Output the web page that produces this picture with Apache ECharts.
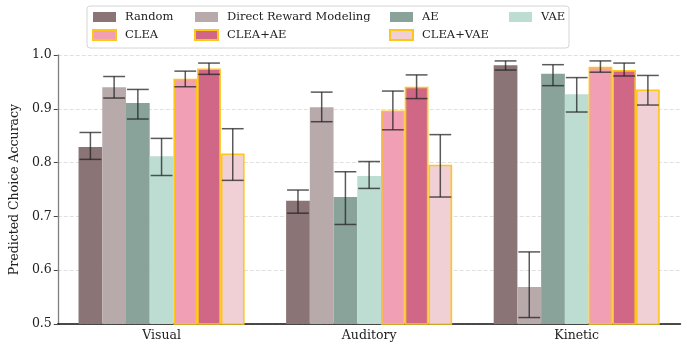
<!DOCTYPE html>
<html>
<head>
<meta charset="utf-8">
<script src="https://cdn.jsdelivr.net/npm/echarts@6/dist/echarts.min.js"></script>
<style>
  html, body { margin: 0; padding: 0; background: #fff; }
  #chart { width: 690px; height: 343px; }
</style>
</head>
<body>
<div id="chart"></div>
<script>
// Predicted choice accuracy per modality, mean with lower/upper error bounds
const categories = ['Visual', 'Auditory', 'Kinetic'];
const yTicks = [0.5, 0.6, 0.7, 0.8, 0.9, 1.0];

const methodNames = ['Random', 'Direct Reward Modeling', 'AE', 'VAE', 'CLEA', 'CLEA+AE', 'CLEA+VAE'];

const randomMean = [0.829, 0.729, 0.981];
const randomLow  = [0.806, 0.706, 0.972];
const randomHigh = [0.856, 0.749, 0.989];

const drmMean = [0.940, 0.903, 0.569];
const drmLow  = [0.920, 0.876, 0.512];
const drmHigh = [0.960, 0.931, 0.634];

const aeMean = [0.911, 0.736, 0.965];
const aeLow  = [0.881, 0.685, 0.943];
const aeHigh = [0.936, 0.783, 0.982];

const vaeMean = [0.812, 0.775, 0.927];
const vaeLow  = [0.776, 0.752, 0.894];
const vaeHigh = [0.845, 0.802, 0.958];

const cleaMean = [0.956, 0.897, 0.978];
const cleaLow  = [0.941, 0.861, 0.968];
const cleaHigh = [0.970, 0.933, 0.989];

const cleaAeMean = [0.975, 0.941, 0.972];
const cleaAeLow  = [0.964, 0.919, 0.961];
const cleaAeHigh = [0.985, 0.963, 0.985];

const cleaVaeMean = [0.817, 0.796, 0.936];
const cleaVaeLow  = [0.767, 0.736, 0.907];
const cleaVaeHigh = [0.863, 0.852, 0.962];

const means = [randomMean, drmMean, aeMean, vaeMean, cleaMean, cleaAeMean, cleaVaeMean];
const lows  = [randomLow, drmLow, aeLow, vaeLow, cleaLow, cleaAeLow, cleaVaeLow];
const highs = [randomHigh, drmHigh, aeHigh, vaeHigh, cleaHigh, cleaAeHigh, cleaVaeHigh];

const fills = ['#8b7475', '#b8a9ab', '#8aa39a', '#bddcd2', '#f09fb5', '#d06787', '#f1d0d5'];
const outlined = [false, false, false, false, true, true, true];

const FONT = 'DejaVu Serif';
const nGroup = methodNames.length;
const groupFrac = 0.8;

const barSeries = methodNames.map((name, k) => ({
  name: name,
  type: 'bar',
  data: means[k],
  barWidth: (groupFrac * 100 / nGroup) + '%',
  barGap: '0%',
  z: 2,
  itemStyle: {
    color: fills[k],
    borderColor: outlined[k] ? '#ffc61a' : fills[k],
    borderWidth: outlined[k] ? 1.6 : 0
  }
}));

// Error bars: vertical whisker with caps, offset to sit on each bar
const errSeries = methodNames.map((name, k) => ({
  type: 'custom',
  name: name + ' err',
  z: 5,
  silent: true,
  data: categories.map((c, i) => [i, lows[k][i], highs[k][i]]),
  renderItem: function (params, api) {
    const i = api.value(0);
    const lo = api.coord([i, api.value(1)]);
    const hi = api.coord([i, api.value(2)]);
    const band = api.size([1, 0])[0];
    const bw = band * groupFrac / nGroup;
    const x = lo[0] + (k - (nGroup - 1) / 2) * bw;
    const cap = bw * 0.46;
    const st = { stroke: 'rgba(35,35,35,0.75)', lineWidth: 1.5, fill: null };
    return {
      type: 'group',
      children: [
        { type: 'line', shape: { x1: x, y1: lo[1], x2: x, y2: hi[1] }, style: st },
        { type: 'line', shape: { x1: x - cap, y1: lo[1], x2: x + cap, y2: lo[1] }, style: st },
        { type: 'line', shape: { x1: x - cap, y1: hi[1], x2: x + cap, y2: hi[1] }, style: st }
      ]
    };
  }
}));

// Legend laid out in four columns
const legendCols = [
  { items: ['Random', 'CLEA'], left: 92 },
  { items: ['Direct Reward Modeling', 'CLEA+AE'], left: 194 },
  { items: ['AE', 'CLEA+VAE'], left: 389 },
  { items: ['VAE'], left: 509 }
];
const legends = legendCols.map(col => ({
  data: col.items,
  orient: 'vertical',
  left: col.left,
  top: 10,
  icon: 'rect',
  itemWidth: 23,
  itemHeight: 10,
  itemGap: 4,
  padding: 0,
  selectedMode: false,
  textStyle: { fontFamily: FONT, fontSize: 11.5, color: '#222', padding: [0, 0, 0, 4], lineHeight: 14 }
}));

const chart = echarts.init(document.getElementById('chart'), null, { renderer: 'canvas' });
chart.setOption({
  animation: false,
  backgroundColor: '#fff',
  grid: { left: 55.5, right: 9.5, top: 55, bottom: 19, containLabel: false },
  graphic: [{
    type: 'rect',
    z: 0,
    shape: { x: 87, y: 6, width: 482, height: 42, r: 3 },
    style: { fill: 'rgba(255,255,255,0.8)', stroke: '#d4d4d4', lineWidth: 1 }
  }],
  legend: legends,
  xAxis: {
    type: 'category',
    data: categories,
    axisLine: { lineStyle: { color: '#111', width: 1.5 } },
    axisTick: { alignWithLabel: true, length: 4, lineStyle: { color: '#777', width: 1 } },
    axisLabel: { fontFamily: FONT, fontSize: 12.5, color: '#222', margin: 5 }
  },
  yAxis: {
    type: 'value',
    min: yTicks[0],
    max: yTicks[yTicks.length - 1],
    interval: 0.1,
    name: 'Predicted Choice Accuracy',
    nameLocation: 'middle',
    nameGap: 31,
    nameTextStyle: { fontFamily: FONT, fontSize: 12.5, color: '#222' },
    axisLine: { show: true, lineStyle: { color: '#808080', width: 1.3 } },
    axisTick: { show: true, length: 4, lineStyle: { color: '#444', width: 1 } },
    axisLabel: {
      fontFamily: FONT, fontSize: 12.5, color: '#222', margin: 6,
      formatter: v => v.toFixed(1)
    },
    splitLine: { show: true, lineStyle: { color: '#d8d8d8', width: 0.8, type: [4, 2] } }
  },
  series: barSeries.concat(errSeries)
});
</script>
</body>
</html>
